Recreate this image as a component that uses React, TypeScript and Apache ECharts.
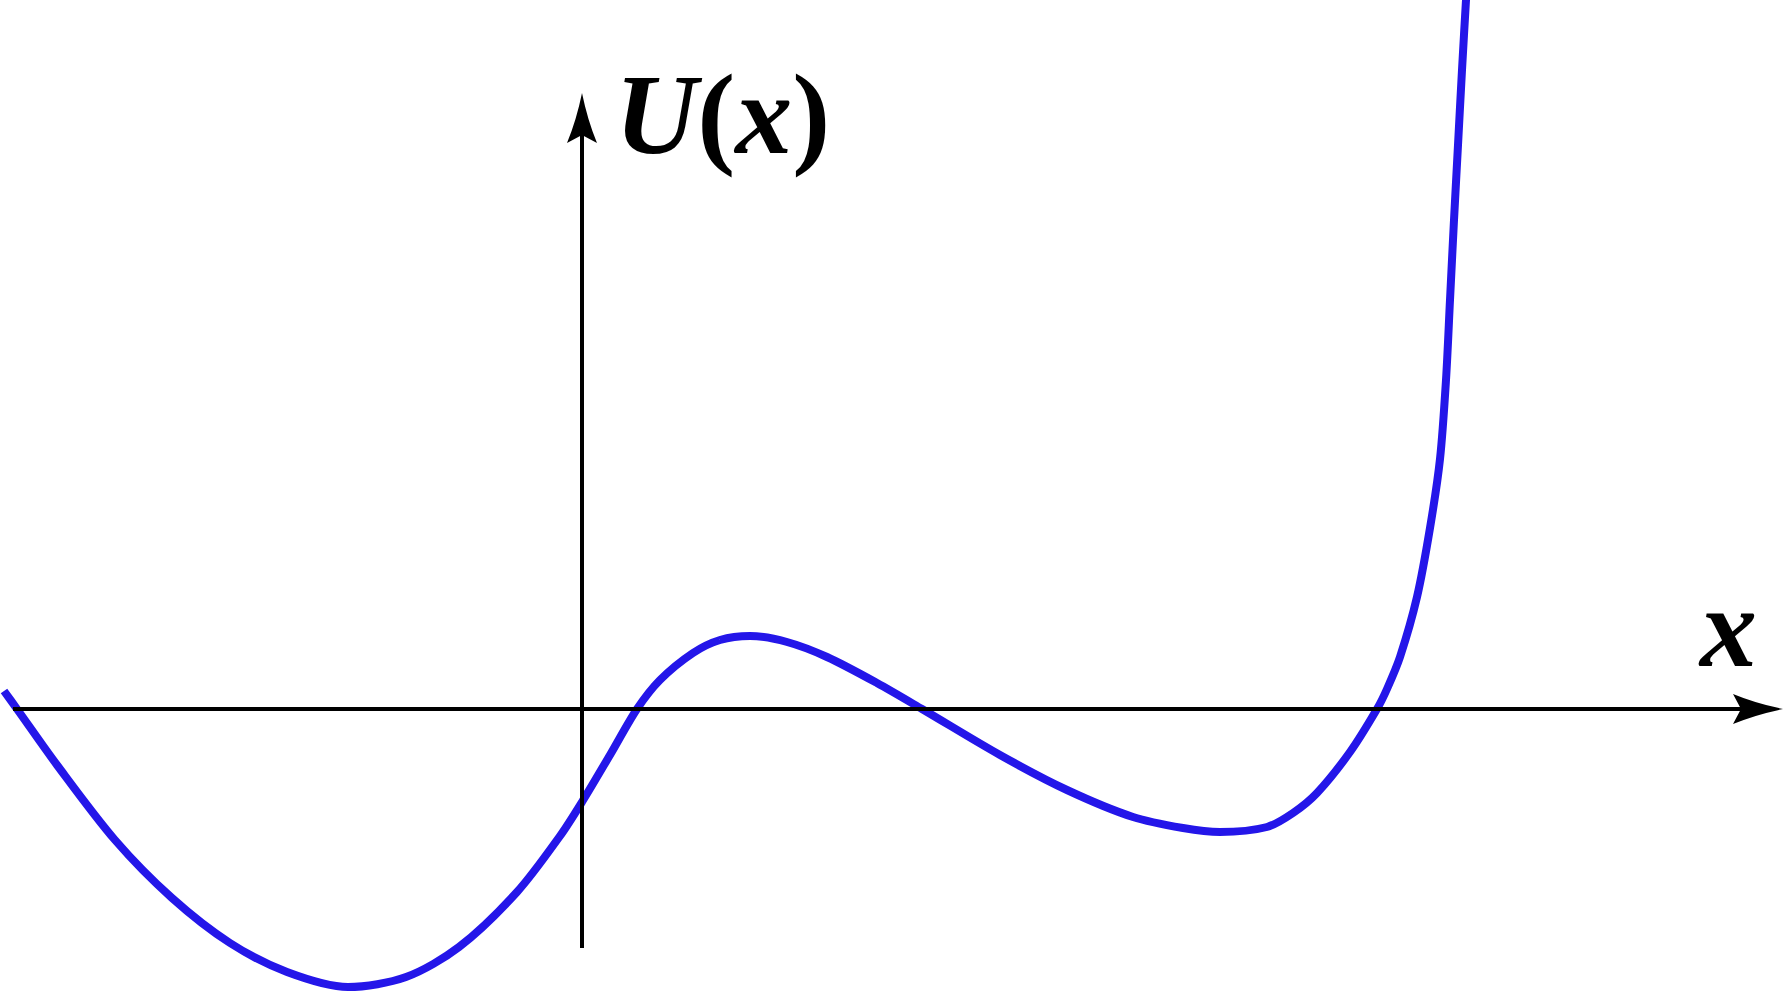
import React, { useEffect, useRef } from "react";
import * as echarts from "echarts";

// Curve U(x) (arbitrary units, 1 unit = 100 px)
const curveX = [
  -5.78, -5.65, -5.25, -4.67, -4.1, -3.52, -2.95, -2.34, -1.76, -1.23, -0.65, -0.22,
  0.0, 0.28, 0.55, 0.78, 1.11, 1.38, 1.68, 2.05, 2.45, 2.95, 3.4, 4.18, 4.85, 5.51,
  6.01, 6.38, 6.85, 7.11, 7.35, 7.68, 7.95, 8.05, 8.18, 8.35, 8.48, 8.58, 8.64, 8.68,
  8.72, 8.76, 8.8, 8.84, 8.855,
];
const curveU = [
  0.18, 0.0, -0.56, -1.31, -1.89, -2.34, -2.63, -2.78, -2.68, -2.38, -1.83, -1.27,
  -0.93, -0.46, 0.0, 0.29, 0.56, 0.69, 0.73, 0.67, 0.52, 0.26, 0.0, -0.46, -0.81, -1.08,
  -1.19, -1.23, -1.18, -1.04, -0.84, -0.43, 0.0, 0.2, 0.52, 1.12, 1.81, 2.5, 3.29, 4.09,
  4.89, 5.64, 6.39, 7.09, 7.34,
];

// Visible window and axis-arrow extents (same units)
const xRange = [-5.82, 12.02];
const yRange = [-2.84, 7.09];
const xAxisExtent = [-5.69, 11.76];
const yAxisExtent = [-2.39, 5.91];

const yLabel = "U(x)";
const xLabel = "x";

const ARROW = "path://M15,0 Q20.5,27 30,50 L15,42 L0,50 Q9.5,27 15,0 Z";

export default function App() {
  const ref = useRef<HTMLDivElement>(null);
  useEffect(() => {
    if (!ref.current) return;
    const chart = echarts.init(ref.current, undefined, { renderer: "svg" });
    const data = curveX.map((x, i) => [x, curveU[i]]);
    const serif = "'Liberation Serif', 'Times New Roman', serif";
    const richFor = (s: string) =>
      s
        .split("")
        .map((ch) => (/[A-Za-z]/.test(ch) ? `{i|${ch}}` : `{n|${ch}}`))
        .join("");
    const rich = {
      i: { fontFamily: serif, fontStyle: "italic", fontWeight: "bold", fontSize: 114, fill: "#000" },
      n: { fontFamily: serif, fontStyle: "normal", fontWeight: "bold", fontSize: 114, fill: "#000" },
    };
    chart.setOption({
      animation: false,
      backgroundColor: "#ffffff",
      grid: { left: 0, right: 0, top: 0, bottom: 0, containLabel: false },
      xAxis: { type: "value", min: xRange[0], max: xRange[1], show: false },
      yAxis: { type: "value", min: yRange[0], max: yRange[1], show: false },
      series: [
        {
          type: "line",
          data,
          smooth: 0.3,
          symbol: "none",
          lineStyle: { color: "#2416e9", width: 8, cap: "butt" },
          z: 2,
          markLine: {
            silent: true,
            animation: false,
            symbol: ["none", ARROW],
            symbolSize: [30, 50],
            label: { show: false },
            emphasis: { disabled: true },
            lineStyle: { color: "#000", width: 4, type: "solid", cap: "butt" },
            data: [
              [{ coord: [xAxisExtent[0], 0] }, { coord: [xAxisExtent[1], 0] }],
              [{ coord: [0, yAxisExtent[0]] }, { coord: [0, yAxisExtent[1]] }],
            ],
          },
        },
      ],
      graphic: [
        {
          type: "text",
          x: 615,
          y: 114,
          z: 10,
          style: { text: richFor(yLabel), rich, align: "left", verticalAlign: "middle", fill: "#000" },
        },
        {
          type: "text",
          x: 1700,
          y: 627,
          z: 10,
          style: { text: richFor(xLabel), rich, align: "left", verticalAlign: "middle", fill: "#000" },
        },
      ],
    });
    return () => chart.dispose();
  }, []);
  return (
    <div
      ref={ref}
      style={{ position: "fixed", left: 0, top: 0, width: 1784, height: 993, background: "#fff" }}
    />
  );
}
